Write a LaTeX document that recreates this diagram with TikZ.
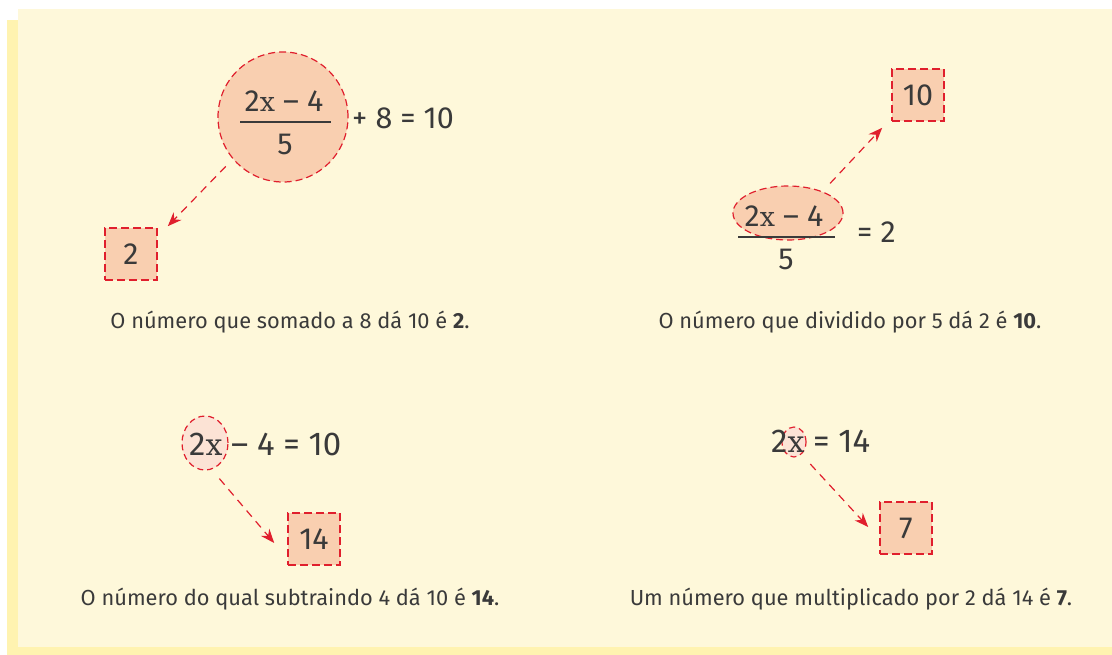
\documentclass[tikz,border=0pt]{standalone}
\usepackage{fontspec}
\setmainfont{Fira Sans}
\newfontfamily\xfont{DejaVu Serif}
\usetikzlibrary{arrows.meta,shapes.geometric}
\definecolor{bgA}{HTML}{FEF8DA}
\definecolor{bgB}{HTML}{FFF3B0}
\definecolor{peach}{HTML}{F9CFB0}
\definecolor{peachL}{HTML}{FCE3D5}
\definecolor{redd}{HTML}{E01F2D}
\definecolor{ink}{HTML}{3A3A3A}
\newcommand{\vx}[1][27]{{\xfont\fontsize{#1}{30}\selectfont x}}
\tikzset{
  eqfont/.style={font=\fontsize{30.5}{34}\selectfont},
  eq/.style={eqfont, text=ink, inner sep=0pt},
  eqbig/.style={font=\fontsize{33}{36}\selectfont, text=ink, inner sep=0pt},
  captxt/.style={font=\fontsize{21.8}{24}\selectfont, text=ink, inner sep=0pt, anchor=base},
  ansbox/.style={draw=redd, fill=peach, dash pattern=on 8pt off 4pt, line width=1.6pt,
                 minimum size=52pt, inner sep=0pt, eqfont, text=ink},
  bigmark/.style={draw=redd, fill=peach, dash pattern=on 7pt off 4pt, line width=1.2pt, inner sep=0pt},
  smallmark/.style={draw=redd, fill=peachL, dash pattern=on 6pt off 4pt, line width=1.2pt, inner sep=0pt, ellipse},
  arr/.style={draw=redd, line width=1.2pt, dash pattern=on 8pt off 6pt,
              -{Stealth[length=14pt,width=11pt]}},
  fbar/.style={draw=ink, line width=1.2pt}
}
\begin{document}
\begin{tikzpicture}[x=1pt,y=-1pt]
\useasboundingbox (0,0) rectangle (1112,655);
\fill[bgB] (7,20) rectangle (1112,655);
\fill[bgA] (18,9) rectangle (1112,647);

% ---------- panel 1
\node[bigmark, circle, minimum size=130pt] (c1) at (283,117) {};
\node[eq, anchor=base] (n1) at (284,112) {2\vx\ – 4};
\draw[fbar] (240,122) -- (331,122);
\node[eq, anchor=base] (d1) at (285,155) {5};
\node[eq, anchor=base west] (r1) at (352,129) {+ 8 = 10};
\node[ansbox] (b1) at (131,254) {2};
\draw[arr, shorten <=10pt] (c1.220) -- ([shift={(10,-1)}]b1.north east);
\node[captxt] (t1) at (290,329) {O número que somado a 8 dá 10 é \textbf{2}.};

% ---------- panel 2
\node[bigmark, ellipse, minimum width=110pt, minimum height=54pt] (e2) at (788,213) {};
\node[eq, anchor=base] (n2) at (784,227) {2\vx\ – 4};
\draw[fbar] (738,237) -- (835,237);
\node[eq, anchor=base] (d2) at (786,270) {5};
\node[eq, anchor=base west] (r2) at (857,243) {= 2};
\node[ansbox] (b2) at (918,95) {10};
\draw[arr, shorten <=11pt] (e2.32) -- ([shift={(-9,6)}]b2.south west);
\node[captxt] (t2) at (850,329) {O número que dividido por 5 dá 2 é \textbf{10}.};

% ---------- panel 3
\node[smallmark, minimum width=46pt, minimum height=54pt] (e3) at (205,443) {};
\node[eqbig, anchor=base west] (n3) at (189,455) {2\vx[30]\ – 4 = 10};
\node[ansbox] (b3) at (314,539) {14};
\draw[arr, shorten <=12pt] (e3.-76) -- ([shift={(-13,4)}]b3.west);
\node[captxt] (t3) at (290,605) {O número do qual subtraindo 4 dá 10 é \textbf{14}.};

% ---------- panel 4
\node[smallmark, minimum width=24pt, minimum height=30pt] (e4) at (794,442) {};
\node[eqbig, anchor=base west] (n4) at (771,452) {2\vx[30]\ = 14};
\node[ansbox] (b4) at (906,528) {7};
\draw[arr, shorten <=13pt] (e4.-59) -- ([shift={(-11,-1)}]b4.west);
\node[captxt] (t4) at (851,605) {Um número que multiplicado por 2 dá 14 é \textbf{7}.};
\end{tikzpicture}
\end{document}
